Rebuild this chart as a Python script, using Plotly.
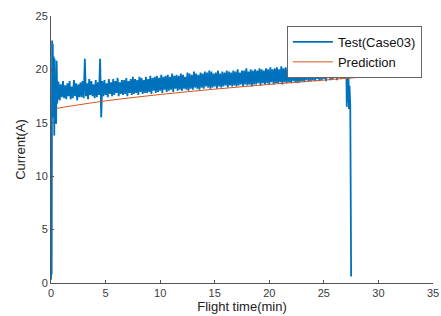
import plotly.graph_objects as go

# ---- data ----
# start transient
t_start = [0.0, 0.03, 0.06, 0.10, 0.13, 0.16, 0.20, 0.25, 0.30, 0.33, 0.37, 0.42, 0.47, 0.52, 0.57, 0.62, 0.66]
i_start = [0.3, 2.3, 0.8, 22.7, 15.5, 22.4, 17.0, 21.2, 13.8, 21.0, 16.0, 19.2, 14.9, 20.8, 16.8, 18.9, 17.2]

# main body, sampled every 0.1 min starting at t = 0.7
body_t0 = 0.7
body_dt = 0.1
i_body = [
    18.8, 17.1, 18.6, 17.4, 18.9, 17.3, 18.5, 17.2, 18.7, 17.5,
    18.9, 17.2, 18.4, 17.3, 19.0, 17.5, 18.7, 17.1, 18.6, 17.4,
    18.8, 17.4, 18.9, 17.3, 21.0, 17.5, 18.7, 17.2, 19.1, 17.6,
    18.9, 17.5, 18.6, 17.3, 19.0, 17.4, 18.8, 17.6, 21.0, 15.5,
    18.9, 17.5, 19.0, 17.6, 18.7, 17.4, 19.1, 17.7, 18.8, 17.5,
    19.1, 17.6, 18.9, 17.8, 19.2, 17.5, 18.8, 17.7, 19.0, 17.6,
    19.0, 17.7, 19.2, 17.5, 18.9, 17.8, 19.1, 17.6, 19.3, 17.7,
    19.1, 17.8, 19.0, 17.6, 19.3, 17.9, 19.2, 17.7, 19.0, 17.8,
    19.3, 17.8, 19.1, 17.9, 19.4, 17.7, 19.2, 18.0, 19.3, 17.8,
    19.4, 17.9, 19.2, 18.0, 19.5, 17.8, 19.3, 18.1, 19.4, 17.9,
    19.5, 18.0, 19.3, 18.1, 19.6, 17.9, 19.4, 18.2, 19.5, 18.0,
    19.4, 18.1, 19.6, 18.0, 19.5, 18.2, 19.3, 18.1, 19.7, 18.0,
    19.6, 18.2, 19.5, 18.1, 19.8, 18.3, 19.6, 18.2, 19.5, 18.1,
    19.7, 18.3, 19.6, 18.2, 19.8, 18.4, 19.7, 18.3, 19.9, 18.2,
    19.8, 18.3, 19.6, 18.4, 19.7, 18.2, 19.9, 18.4, 19.6, 18.3,
    19.8, 18.4, 19.7, 18.5, 19.9, 18.3, 19.8, 18.5, 19.7, 18.4,
    19.9, 18.5, 19.8, 18.4, 20.0, 18.5, 19.7, 18.6, 19.9, 18.4,
    19.9, 18.6, 20.1, 18.5, 19.8, 18.6, 20.0, 18.4, 19.9, 18.6,
    20.0, 18.6, 19.9, 18.7, 20.1, 18.5, 20.0, 18.7, 19.9, 18.6,
    20.1, 18.7, 20.0, 18.6, 20.2, 18.8, 20.0, 18.6, 20.1, 18.7,
    20.2, 18.7, 20.0, 18.8, 20.3, 18.6, 20.1, 18.8, 20.2, 18.7,
    20.1, 18.8, 20.3, 18.7, 20.2, 18.9, 20.4, 18.8, 20.1, 18.7,
    20.3, 18.8, 20.2, 18.9, 20.4, 18.8, 20.3, 19.0, 20.5, 18.9,
    20.4, 18.9, 20.3, 19.0, 20.6, 18.9, 20.4, 19.1, 20.3, 18.9,
    20.5, 19.0, 20.4, 19.1, 20.6, 18.9, 20.5, 19.2, 20.4, 19.0,
    20.6, 19.1, 20.5, 19.2, 20.7, 19.0, 20.6, 19.2, 20.5, 19.1,
    20.7, 19.2, 20.8, 19.3,
]

# end of flight (landing drop)
t_end = [27.05, 27.10, 27.15, 27.20, 27.25, 27.30, 27.35, 27.42, 27.50]
i_end = [20.8, 16.5, 20.5, 16.9, 20.1, 16.3, 18.5, 16.6, 0.6]

# prediction curve
t_pred = [0.5, 2.0, 5.0, 10.0, 15.0, 20.0, 25.0, 30.0, 31.8]
i_pred = [16.35, 16.6, 17.05, 17.65, 18.15, 18.6, 19.0, 19.4, 19.57]

x_ticks = [0, 5, 10, 15, 20, 25, 30, 35]
y_ticks = [0, 5, 10, 15, 20, 25]

t_body = [round(body_t0 + body_dt * k, 3) for k in range(len(i_body))]
t_test = t_start + t_body + t_end
i_test = i_start + i_body + i_end

FONT = "Liberation Sans, Arial, sans-serif"
AX = "#555555"

fig = go.Figure()
fig.add_trace(go.Scatter(x=t_test, y=i_test, mode="lines", name="Test(Case03)",
                         line=dict(color="#0072BD", width=1.8)))
fig.add_trace(go.Scatter(x=t_pred, y=i_pred, mode="lines", name="Prediction",
                         line=dict(color="#D95319", width=1), line_shape="spline"))

axis_common = dict(showline=True, linecolor=AX, linewidth=1, ticks="inside", ticklen=3,
                   tickcolor=AX, showgrid=False, zeroline=False, automargin=False,
                   ticklabeloverflow="allow",
                   tickfont=dict(family=FONT, size=11, color="#3a3a3a"))

fig.update_layout(
    width=441, height=316,
    margin=dict(l=51, r=8, t=16, b=33),
    plot_bgcolor="white", paper_bgcolor="white",
    font=dict(family=FONT, color="#222222"),
    xaxis=dict(range=[0, 35], tickvals=x_ticks,
               title=dict(text="Flight time(min)", font=dict(size=13), standoff=2),
               **axis_common),
    yaxis=dict(range=[0, 25], tickvals=y_ticks,
               title=dict(text="Current(A)", font=dict(size=13), standoff=6),
               **axis_common),
    legend=dict(x=0.971, y=0.9625, xanchor="right", yanchor="top",
                bgcolor="white", bordercolor="#666666", borderwidth=1,
                font=dict(family=FONT, size=13, color="#111111"),
                tracegroupgap=0, itemwidth=40),
    showlegend=True,
)

# remove the page's default body margin so the figure sits at the window origin
fig.write_html("out.html",
               config={"displayModeBar": False},
               post_script="document.body.style.margin='0';document.body.style.overflow='hidden';")
